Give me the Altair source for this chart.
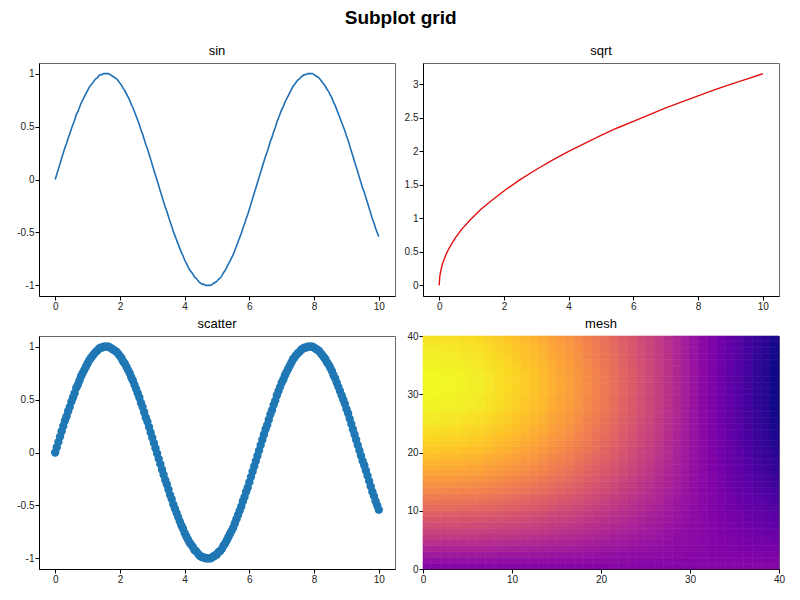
import altair as alt
import pandas as pd

# sin curve / scatter samples, x step 0.05 from 0 to 10
sin_step = 0.05
sin_vals = [
    0.00, 0.05, 0.10, 0.15, 0.20, 0.25, 0.30, 0.34, 0.39, 0.43,
    0.48, 0.52, 0.56, 0.61, 0.64, 0.68, 0.72, 0.75, 0.78, 0.81,
    0.84, 0.87, 0.89, 0.91, 0.93, 0.95, 0.96, 0.98, 0.99, 0.99,
    1.00, 1.00, 1.00, 1.00, 0.99, 0.98, 0.97, 0.96, 0.95, 0.93,
    0.91, 0.89, 0.86, 0.84, 0.81, 0.78, 0.75, 0.71, 0.68, 0.64,
    0.60, 0.56, 0.52, 0.47, 0.43, 0.38, 0.33, 0.29, 0.24, 0.19,
    0.14, 0.09, 0.04, -0.01, -0.06, -0.11, -0.16, -0.21, -0.26, -0.30,
    -0.35, -0.40, -0.44, -0.49, -0.53, -0.57, -0.61, -0.65, -0.69, -0.72,
    -0.76, -0.79, -0.82, -0.85, -0.87, -0.89, -0.92, -0.93, -0.95, -0.97,
    -0.98, -0.99, -0.99, -1.00, -1.00, -1.00, -1.00, -0.99, -0.98, -0.97,
    -0.96, -0.94, -0.93, -0.91, -0.88, -0.86, -0.83, -0.80, -0.77, -0.74,
    -0.71, -0.67, -0.63, -0.59, -0.55, -0.51, -0.46, -0.42, -0.37, -0.33,
    -0.28, -0.23, -0.18, -0.13, -0.08, -0.03, 0.02, 0.07, 0.12, 0.17,
    0.22, 0.26, 0.31, 0.36, 0.40, 0.45, 0.49, 0.54, 0.58, 0.62,
    0.66, 0.69, 0.73, 0.76, 0.79, 0.82, 0.85, 0.88, 0.90, 0.92,
    0.94, 0.95, 0.97, 0.98, 0.99, 0.99, 1.00, 1.00, 1.00, 1.00,
    0.99, 0.98, 0.97, 0.96, 0.94, 0.92, 0.90, 0.88, 0.85, 0.83,
    0.80, 0.77, 0.73, 0.70, 0.66, 0.62, 0.58, 0.54, 0.50, 0.46,
    0.41, 0.37, 0.32, 0.27, 0.22, 0.17, 0.12, 0.07, 0.02, -0.03,
    -0.08, -0.12, -0.17, -0.22, -0.27, -0.32, -0.37, -0.41, -0.46, -0.50,
    -0.54,
]
sin_x = [round(i * sin_step, 2) for i in range(len(sin_vals))]

# sqrt curve
sqrt_x = [0, 0.02, 0.05, 0.1, 0.2, 0.3, 0.4, 0.5, 0.7, 1, 1.3, 1.6, 2, 2.5, 3,
          3.5, 4, 4.5, 5, 5.5, 6, 6.5, 7, 7.5, 8, 8.5, 9, 9.5, 10]
sqrt_y = [0, 0.14, 0.22, 0.32, 0.45, 0.55, 0.63, 0.71, 0.84, 1.0, 1.14, 1.26,
          1.41, 1.58, 1.73, 1.87, 2.0, 2.12, 2.24, 2.35, 2.45, 2.55, 2.65,
          2.74, 2.83, 2.92, 3.0, 3.08, 3.16]

# mesh: 40x40 cells, value = column profile * row profile
mesh_cols = [
    1.00, 1.00, 0.99, 0.99, 0.98, 0.97, 0.96, 0.94, 0.92, 0.90,
    0.88, 0.85, 0.83, 0.80, 0.76, 0.73, 0.70, 0.66, 0.62, 0.58,
    0.54, 0.50, 0.45, 0.41, 0.36, 0.32, 0.27, 0.22, 0.17, 0.12,
    0.07, 0.02, -0.03, -0.08, -0.13, -0.18, -0.23, -0.28, -0.32, -0.37,
]
mesh_rows = [
    0.00, 0.05, 0.10, 0.15, 0.20, 0.25, 0.30, 0.34, 0.39, 0.43,
    0.48, 0.52, 0.56, 0.61, 0.64, 0.68, 0.72, 0.75, 0.78, 0.81,
    0.84, 0.87, 0.89, 0.91, 0.93, 0.95, 0.96, 0.98, 0.99, 0.99,
    1.00, 1.00, 1.00, 1.00, 0.99, 0.98, 0.97, 0.96, 0.95, 0.93,
]

FONT = "Liberation Sans"
W, H = 356, 233

sin_df = pd.DataFrame({"x": sin_x, "y": sin_vals})
sqrt_df = pd.DataFrame({"x": sqrt_x, "y": sqrt_y})
mesh_df = pd.DataFrame(
    [
        {"x": i, "x2": i + 1, "y": j, "y2": j + 1, "z": c * r}
        for j, r in enumerate(mesh_rows)
        for i, c in enumerate(mesh_cols)
    ]
)

# plain hyphen minus, no trailing zeros
LABEL_FIX = "replace(format(datum.value, '~g'), '\u2212', '-')"


def panel_title(text, offset=5):
    return alt.TitleParams(text, fontSize=13, fontWeight="normal", font=FONT,
                           color="black", offset=offset)


x10 = alt.X("x:Q", scale=alt.Scale(domain=[-0.5, 10.5], nice=False, zero=False),
            axis=alt.Axis(values=[0, 2, 4, 6, 8, 10]))
y_sin = alt.Y("y:Q", scale=alt.Scale(domain=[-1.1, 1.1], nice=False, zero=False),
              axis=alt.Axis(values=[-1, -0.5, 0, 0.5, 1], labelExpr=LABEL_FIX))

sin_chart = (
    alt.Chart(sin_df)
    .mark_line(color="#1f6fb4", strokeWidth=1.6)
    .encode(x=x10, y=y_sin)
    .properties(width=W, height=H, title=panel_title("sin"))
)

sqrt_chart = (
    alt.Chart(sqrt_df)
    .mark_line(color="#e01010", strokeWidth=1.4)
    .encode(
        x=x10,
        y=alt.Y("y:Q", scale=alt.Scale(domain=[-0.158, 3.32], nice=False, zero=False),
                axis=alt.Axis(values=[0, 0.5, 1, 1.5, 2, 2.5, 3], labelExpr=LABEL_FIX)),
    )
    .properties(width=W, height=H, title=panel_title("sqrt"))
)

scatter_chart = (
    alt.Chart(sin_df)
    .mark_circle(color="#1f77b4", opacity=1, size=70)
    .encode(x=x10, y=y_sin)
    .properties(width=W, height=H, title=panel_title("scatter"))
)

mesh_scale = alt.Scale(scheme="plasma")
mesh_chart = (
    alt.Chart(mesh_df)
    .mark_rect(strokeWidth=0.6)
    .encode(
        x=alt.X("x:Q", scale=alt.Scale(domain=[0, 40], nice=False),
                axis=alt.Axis(values=[0, 10, 20, 30, 40])),
        x2="x2:Q",
        y=alt.Y("y:Q", scale=alt.Scale(domain=[0, 40], nice=False),
                axis=alt.Axis(values=[0, 10, 20, 30, 40])),
        y2="y2:Q",
        color=alt.Color("z:Q", scale=mesh_scale, legend=None),
        stroke=alt.Stroke("z:Q", scale=mesh_scale, legend=None),
    )
    # top "40" label pokes above the frame, so pull the title down
    .properties(width=W, height=H, title=panel_title("mesh", offset=0))
)

chart = (
    alt.concat(sin_chart, sqrt_chart, scatter_chart, mesh_chart, columns=2,
               spacing={"row": 5, "column": 7})
    .resolve_scale(x="independent", y="independent")
    .properties(
        title=alt.TitleParams("Subplot grid", fontSize=19, fontWeight="bold",
                              font=FONT, color="black", anchor="middle", offset=17),
        padding={"left": 8, "top": 0, "right": 5, "bottom": 5},
    )
    .configure_view(stroke="#666666", strokeWidth=1)
    .configure_axis(
        grid=False, title=None, domainColor="black", domainWidth=1,
        tickColor="black", tickSize=4, labelPadding=1, labelFont=FONT,
        labelFontSize=10, labelColor="#222222", labelFlush=False,
    )
)

chart.save("out.html", embed_options={"renderer": "svg", "actions": False})
